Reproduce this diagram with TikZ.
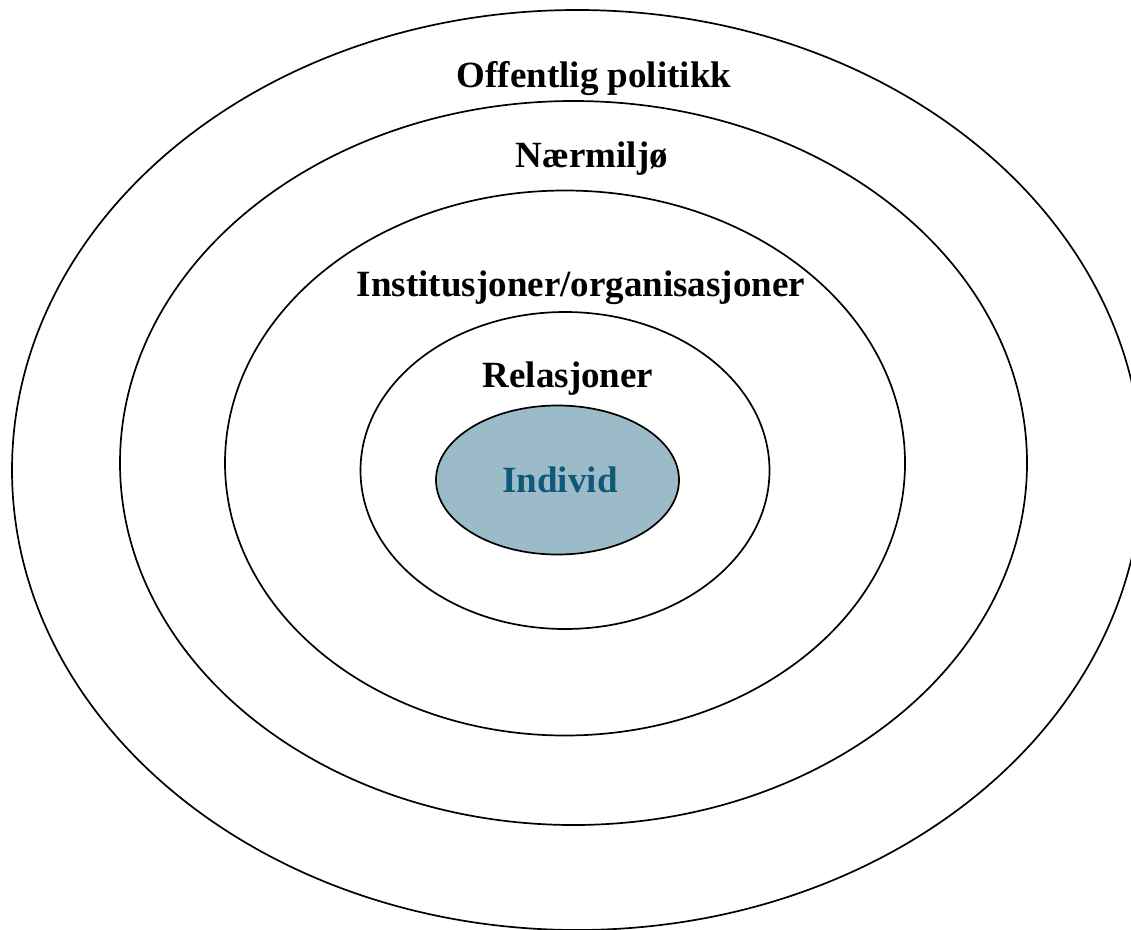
\documentclass[tikz,border=0pt]{standalone}
\usepackage{fontspec}
\setmainfont{Liberation Serif}
\definecolor{indfill}{HTML}{9BBBC8}
\definecolor{indtext}{HTML}{0F5878}
\begin{document}
\begin{tikzpicture}[x=1pt,y=-1pt,
  ring/.style={draw=black,line width=1.7pt},
  lbl/.style={anchor=base,inner sep=0pt,font=\fontsize{37}{41}\selectfont\bfseries}]
\useasboundingbox (0,0) rectangle (1131,929);
\clip (0,0) rectangle (1131,929);
\draw[ring] (577,470) ellipse [x radius=565, y radius=460];
\draw[ring] (573.5,463) ellipse [x radius=453.5, y radius=362];
\draw[ring] (565,463) ellipse [x radius=340, y radius=272.5];
\draw[ring] (565,470.5) ellipse [x radius=204.5, y radius=158.5];
\draw[ring,fill=indfill] (557.5,480) ellipse [x radius=121.5, y radius=74.5];
\node[lbl] (pol) at (594,87) {Offentlig politikk};
\node[lbl] (naer) at (592,167) {Nærmiljø};
\node[lbl] (inst) at (581,296) {Institusjoner/organisasjoner};
\node[lbl] (rel) at (568,387) {Relasjoner};
\node[lbl,text=indtext] (ind) at (560,492) {Individ};
\end{tikzpicture}
\end{document}
